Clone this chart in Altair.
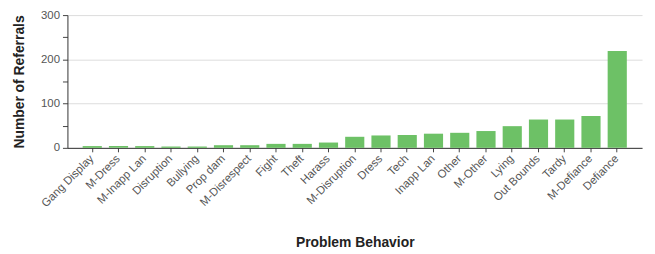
import altair as alt
import pandas as pd

categories = ["Gang Display", "M-Dress", "M-Inapp Lan", "Disruption", "Bullying",
              "Prop dam", "M-Disrespect", "Fight", "Theft", "Harass",
              "M-Disruption", "Dress", "Tech", "Inapp Lan", "Other",
              "M-Other", "Lying", "Out Bounds", "Tardy", "M-Defiance", "Defiance"]
referrals = [4, 4, 4, 3, 3, 6, 6, 9, 9, 12, 25, 28, 29, 32, 34, 38, 49, 64, 64, 72, 219]
y_ticks = [0, 50, 100, 150, 200, 250, 300]

df = pd.DataFrame({"behavior": categories, "referrals": referrals})

font = "Liberation Sans"

chart = alt.Chart(df).mark_bar(color="#6dc166").encode(
    x=alt.X("behavior:N", sort=categories, title="Problem Behavior",
            scale=alt.Scale(paddingInner=0.27, paddingOuter=0.58),
            axis=alt.Axis(labelAngle=-45, labelAlign="right", labelBaseline="middle",
                          labelFontSize=11.5, labelColor="#555555", labelFont=font,
                          labelPadding=5, tickColor="#444444", tickSize=4,
                          domainColor="#333333", titleFont=font, titleFontSize=14,
                          titleFontWeight="bold", titleColor="#222222", titlePadding=27)),
    y=alt.Y("referrals:Q", title="Number of Referrals",
            scale=alt.Scale(domain=[0, 300], nice=False),
            axis=alt.Axis(values=y_ticks,
                          labelExpr="datum.value % 100 == 0 ? datum.label : ''",
                          gridColor=alt.condition("datum.value % 100 == 0",
                                                  alt.value("#dddddd"), alt.value("transparent")),
                          labelFontSize=11.5, labelColor="#555555", labelFont=font,
                          tickColor="#444444", tickSize=5, labelPadding=3,
                          domainColor="#333333", titleFont=font, titleFontSize=14,
                          titleFontWeight="bold", titleColor="#222222", titlePadding=14)),
).properties(width=580, height=134, padding={"top": 0, "left": 4, "right": 5, "bottom": 5}
).configure_view(stroke=None)

chart.save("out.html", embed_options={"renderer": "svg", "actions": False})
